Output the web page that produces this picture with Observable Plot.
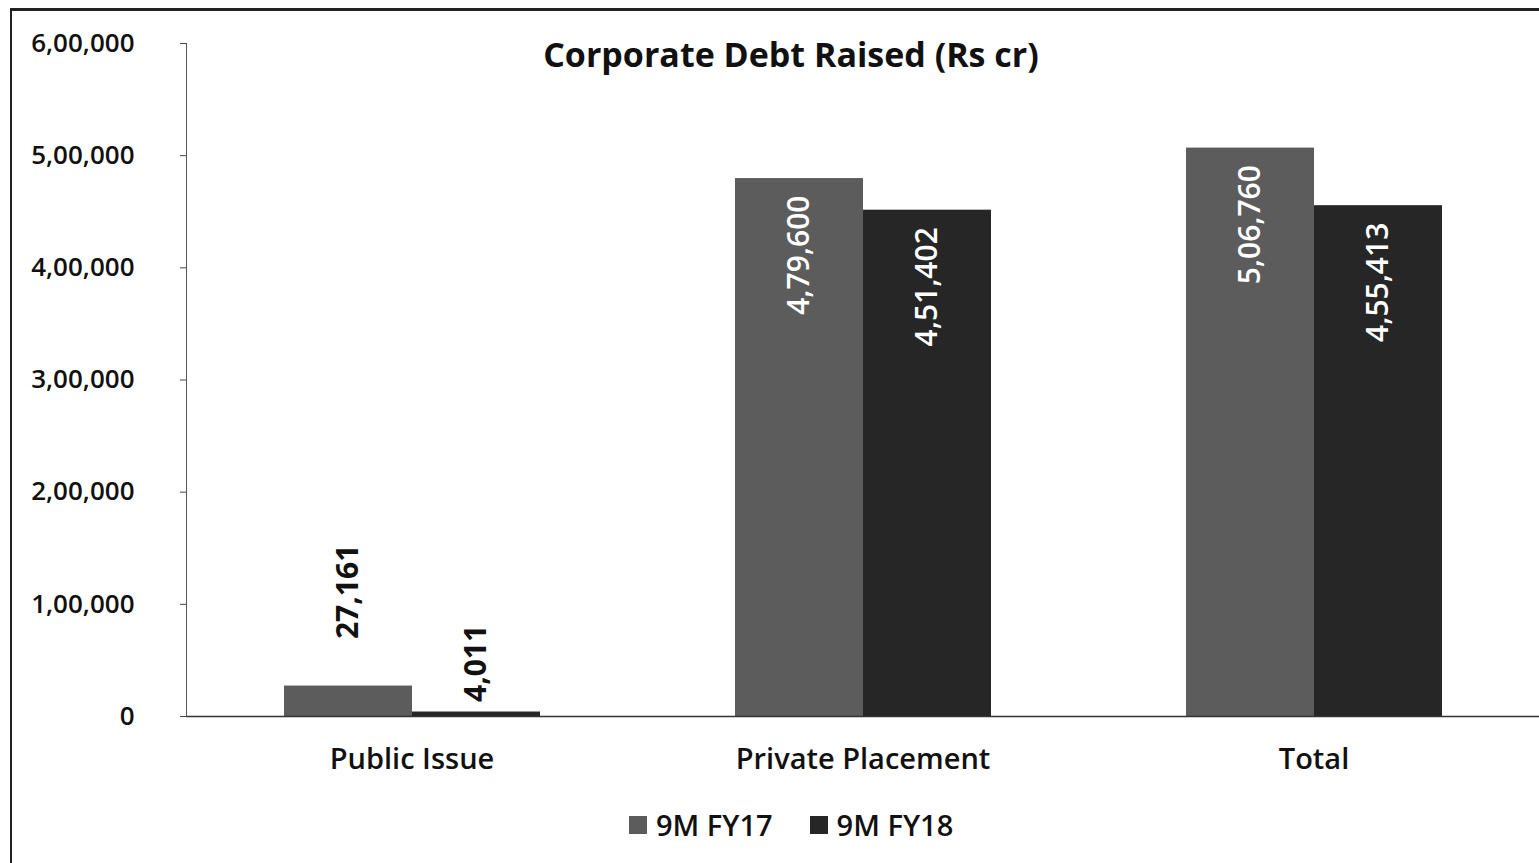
<!DOCTYPE html>
<html>
<head>
<meta charset="utf-8">
<script src="https://cdn.jsdelivr.net/npm/d3@7"></script>
<script src="https://cdn.jsdelivr.net/npm/@observablehq/plot@0.6"></script>
<style>
  html, body { margin: 0; padding: 0; background: #fff; }
  body { width: 1539px; height: 863px; position: relative; overflow: hidden; font-family: "Open Sans", sans-serif; color: #111; }
  #border { position: absolute; left: 10px; top: 8px; width: 1540px; height: 870px; border-left: 2px solid #222; border-top: 3px solid #222; }
  #chart { position: absolute; left: 0; top: 0; }
  #title { position: absolute; left: 0; top: 31px; width: 1582px; text-align: center; font-size: 34px; font-weight: 700; color: #111; }
  #legend { position: absolute; left: 629px; top: 805px; display: flex; align-items: center; font-size: 29px; font-weight: 600; color: #111; }
  #legend .item { display: flex; align-items: center; margin-right: 37px; }
  #legend .sw { width: 18px; height: 18px; margin-right: 9px; }
</style>
</head>
<body>
<div id="border"></div>
<div id="chart"></div>
<div id="title">Corporate Debt Raised (Rs cr)</div>
<div id="legend"></div>
<script>
const categories = ["Public Issue", "Private Placement", "Total"];
const series = ["9M FY17", "9M FY18"];
const fy17 = [27161, 479600, 506760];
const fy18 = [4011, 451402, 455413];
const yTicks = [0, 100000, 200000, 300000, 400000, 500000, 600000];
const colors = ["#5c5c5c", "#262626"];

function inr(n) {
  const s = String(Math.round(n));
  if (s.length <= 3) return s;
  const last3 = s.slice(-3);
  const rest = s.slice(0, -3).replace(/\B(?=(\d{2})+(?!\d))/g, ",");
  return rest + "," + last3;
}

const data = categories.flatMap((c, i) => [
  {cat: c, series: series[0], value: fy17[i]},
  {cat: c, series: series[1], value: fy18[i]}
]);

const insideData = data.filter(d => d.cat !== "Public Issue");
const outsideA = data.filter(d => d.cat === "Public Issue" && d.series === series[0]);
const outsideB = data.filter(d => d.cat === "Public Issue" && d.series === series[1]);

const chart = Plot.plot({
  width: 1539,
  height: 790,
  marginLeft: 186,
  marginRight: 0,
  marginTop: 43,
  marginBottom: 74,
  style: {fontFamily: "Open Sans", fontSize: "26px", color: "#111", background: "transparent", overflow: "visible"},
  fx: {domain: categories, padding: 0, label: null},
  x: {domain: series, paddingInner: 0, paddingOuter: 0.75, axis: null},
  y: {domain: [0, 600000], label: null},
  color: {domain: series, range: colors},
  marks: [
    Plot.axisY({ticks: yTicks, tickFormat: inr, tickSize: 6, tickPadding: 46, fontSize: 26, fontWeight: 600, label: null, stroke: "#444"}),
    Plot.axisFx({anchor: "bottom", tickSize: 0, tickPadding: 32, fontSize: 29, fontWeight: 600, label: null}),
    Plot.barY(data, {fx: "cat", x: "series", y: "value", fill: "series"}),
    Plot.ruleY([0], {stroke: "#333", strokeWidth: 1.5}),
    Plot.frame({anchor: "left", facetAnchor: "left", stroke: "#555"}),
    Plot.text(insideData, {fx: "cat", x: "series", y: "value", text: d => inr(d.value), rotate: -90, textAnchor: "end", lineAnchor: "middle", dy: 17, fill: "white", fontSize: 30, fontWeight: 600}),
    Plot.text(outsideA, {fx: "cat", x: "series", y: "value", text: d => inr(d.value), rotate: -90, textAnchor: "start", lineAnchor: "middle", dy: -47, fill: "#111", fontSize: 30, fontWeight: 700}),
    Plot.text(outsideB, {fx: "cat", x: "series", y: "value", text: d => inr(d.value), rotate: -90, textAnchor: "start", lineAnchor: "middle", dy: -10, fill: "#111", fontSize: 30, fontWeight: 700})
  ]
});
document.getElementById("chart").appendChild(chart);

const legend = document.getElementById("legend");
series.forEach((s, i) => {
  const item = document.createElement("div");
  item.className = "item";
  const sw = document.createElement("div");
  sw.className = "sw";
  sw.style.background = colors[i];
  const label = document.createElement("span");
  label.textContent = s;
  item.appendChild(sw);
  item.appendChild(label);
  legend.appendChild(item);
});
</script>
</body>
</html>
